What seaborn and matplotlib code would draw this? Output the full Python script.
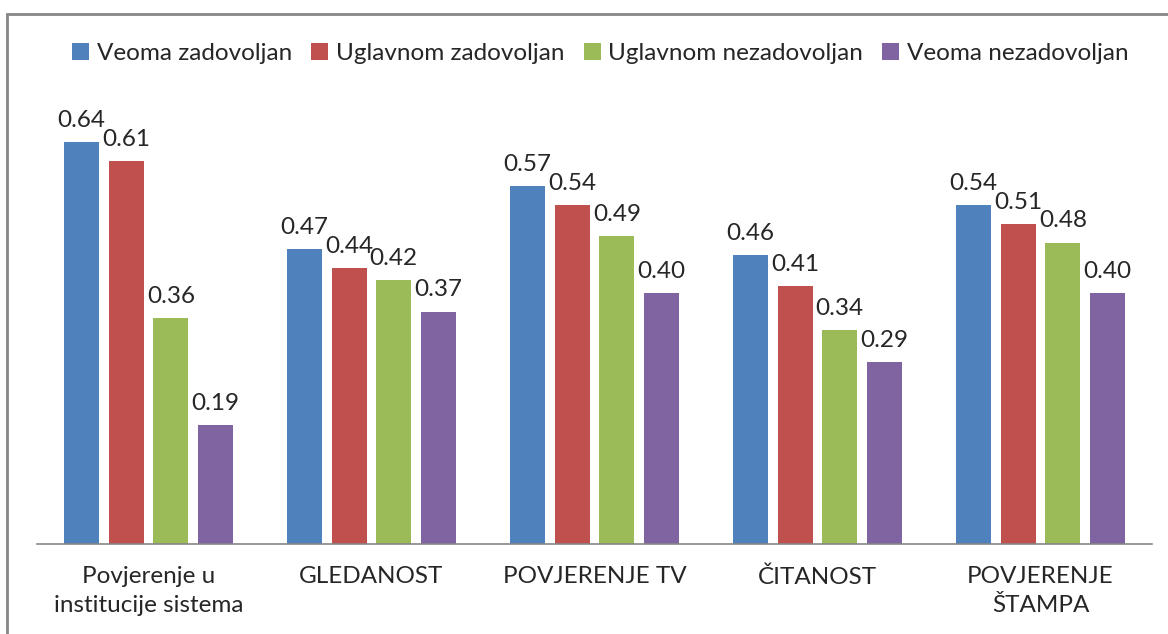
import matplotlib
matplotlib.use("Agg")
import matplotlib.pyplot as plt
import seaborn as sns
import pandas as pd
from matplotlib.patches import Rectangle, Patch

categories = ["Povjerenje u\ninstitucije sistema", "GLEDANOST", "POVJERENJE TV", "ČITANOST", "POVJERENJE\nŠTAMPA"]
series = ["Veoma zadovoljan", "Uglavnom zadovoljan", "Uglavnom nezadovoljan", "Veoma nezadovoljan"]
veoma_zad = [0.64, 0.47, 0.57, 0.46, 0.54]
uglavnom_zad = [0.61, 0.44, 0.54, 0.41, 0.51]
uglavnom_nezad = [0.36, 0.42, 0.49, 0.34, 0.48]
veoma_nezad = [0.19, 0.37, 0.40, 0.29, 0.40]
colors = ["#4F81BD", "#C0504D", "#9BBB59", "#8064A2"]

rows = []
for s, vals in zip(series, [veoma_zad, uglavnom_zad, uglavnom_nezad, veoma_nezad]):
    for c, v in zip(categories, vals):
        rows.append({"cat": c, "series": s, "val": v})
df = pd.DataFrame(rows)

sns.set_style("white")
plt.rcParams["font.family"] = ["Lato", "DejaVu Sans"]

fig = plt.figure(figsize=(11.68, 6.34), dpi=100)
ax = fig.add_axes([37/1168, 0.1420, (1152-37)/1168, 0.6934])
sns.barplot(data=df, x="cat", y="val", hue="series", order=categories, hue_order=series,
            palette=colors, width=0.8, gap=0.215, ax=ax, legend=False, saturation=1,
            errorbar=None, linewidth=0)
ax.set_ylim(0, 0.70)
ax.set_xlim(-0.5, 4.5)
ax.set_xlabel("")
ax.set_ylabel("")
ax.set_yticks([])
for sp in ["left", "right", "top"]:
    ax.spines[sp].set_visible(False)
ax.spines["bottom"].set_color("#868686")
ax.spines["bottom"].set_linewidth(1.2)
ax.tick_params(axis="x", length=0, pad=16, labelsize=17.5)
for t in ax.get_xticklabels():
    t.set_linespacing(1.45)

for cont in ax.containers:
    ax.bar_label(cont, fmt="%.2f", padding=8, fontsize=17.5)

handles = [Patch(facecolor=c, edgecolor="none") for c in colors]
fig.legend(handles, series, loc="center", bbox_to_anchor=(0.514, 0.915), ncol=4, frameon=False,
           fontsize=17.5, handlelength=0.7, handleheight=0.7, handletextpad=0.3, columnspacing=0.8)

fig.patches.append(Rectangle((7/1168, -0.1), 1.2, 1 - 14/634 + 0.1, transform=fig.transFigure,
                             fill=False, edgecolor="#868686", linewidth=2))
fig.savefig("out.png", dpi=100)
